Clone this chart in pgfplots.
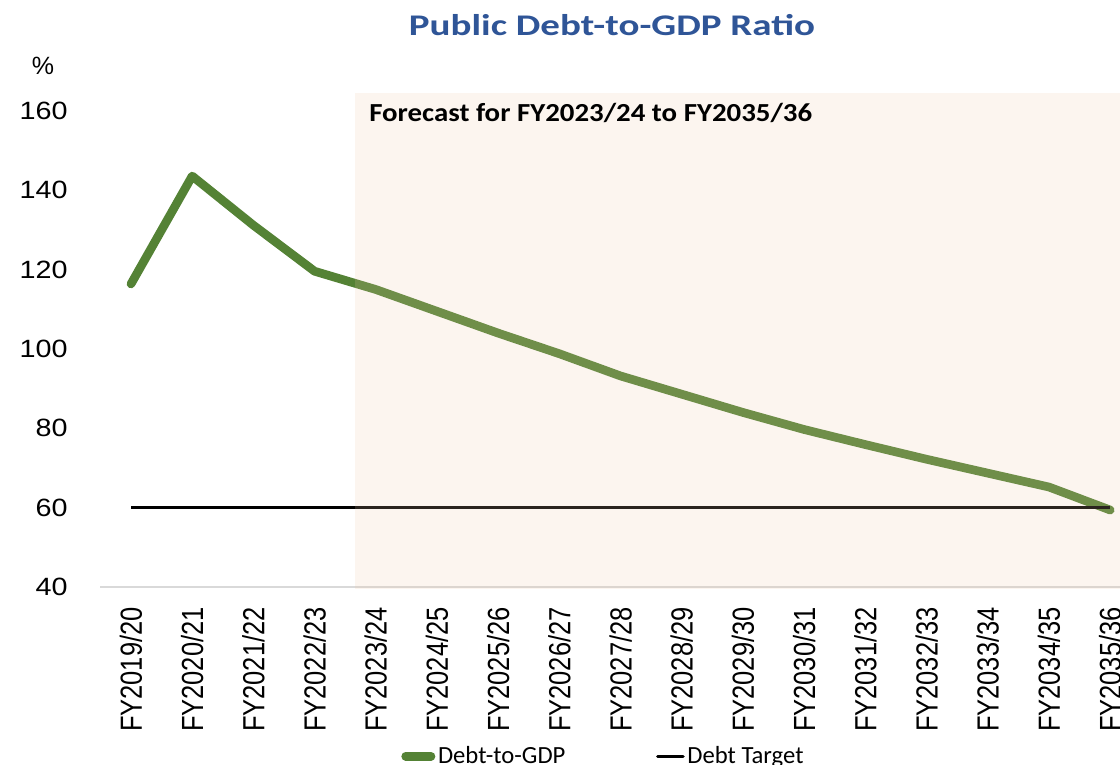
\documentclass[border=0pt]{standalone}
\usepackage{pgfplots}
\pgfplotsset{compat=1.18}
\usepackage{fontspec}
\setmainfont{Carlito}
\newfontfamily\arialf{Liberation Sans}
\definecolor{dgreen}{RGB}{84,130,53}
\definecolor{tblue}{RGB}{47,85,151}
\definecolor{shadec}{RGB}{237,200,167}
\begin{document}
\begin{tikzpicture}
\begin{axis}[
  at={(75.3pt,132.75pt)}, anchor=south west,
  scale only axis, width=780.3pt, height=357pt,
  xmin=-0.5, xmax=16.5, ymin=40, ymax=160,
  xtick={0,...,16},
  xticklabels={FY2019/20,FY2020/21,FY2021/22,FY2022/23,FY2023/24,FY2024/25,FY2025/26,FY2026/27,FY2027/28,FY2028/29,FY2029/30,FY2030/31,FY2031/32,FY2032/33,FY2033/34,FY2034/35,FY2035/36},
  ytick={40,60,...,160},
  major tick length=0pt,
  axis x line*=bottom, axis y line*=left,
  y axis line style={draw=none},
  x axis line style={draw=black!15, line width=1.1pt},
  clip=false,
  /pgf/number format/assume math mode=true,
  xticklabel style={font=\arialf\fontsize{19.1}{22}\selectfont, yshift=-15pt, xscale=1.2, rotate=90, anchor=east, inner sep=0pt},
  yticklabel style={font=\arialf\fontsize{18.75}{22}\selectfont, xshift=-24.3pt, xscale=1.15, anchor=east, inner sep=0pt},
  legend columns=2,
  legend style={at={(0.289,-0.3555)}, anchor=west, draw=none, fill=none, font=\fontsize{18.5}{21}\selectfont, inner sep=0pt, /tikz/every even column/.append style={column sep=66pt}},
  legend image code/.code={\draw[#1, line cap=round] (0pt,0pt) -- (19pt,0pt);},
]
\addplot[dgreen, line width=6.5pt, line join=round, line cap=round] coordinates {
  (0,116.4) (1,143.6) (2,131.2) (3,119.6) (4,115.0) (5,109.5) (6,104.0) (7,98.8)
  (8,93.2) (9,88.6) (10,84.0) (11,79.7) (12,75.9) (13,72.2) (14,68.7) (15,65.2) (16,59.4)
};
\addlegendentry{Debt-to-GDP}
\addplot[black, line width=2.5pt] coordinates {
  (0,60) (1,60) (2,60) (3,60) (4,60) (5,60) (6,60) (7,60) (8,60) (9,60) (10,60)
  (11,60) (12,60) (13,60) (14,60) (15,60) (16,60)
};
\addlegendentry{Debt Target}
\fill[shadec, fill opacity=0.18] (axis cs:3.66,39.5) rectangle (axis cs:16.5,164.5);
\end{axis}
\node[font=\bfseries\fontsize{22.5}{26}\selectfont, text=tblue, xscale=1.3, anchor=base] at (459pt,546.5pt) {Public Debt-to-GDP Ratio};
\node[font=\bfseries\fontsize{19.5}{22}\selectfont, xscale=1.11, anchor=base west, inner sep=0pt] at (276.75pt,481.7pt) {Forecast for FY2023/24 to FY2035/36};
\node[font=\arialf\fontsize{18.75}{22}\selectfont, anchor=base] at (32.25pt,516.75pt) {\%};
\pgfresetboundingbox
\useasboundingbox (0,0) rectangle (840pt,573pt);
\end{tikzpicture}
\end{document}
